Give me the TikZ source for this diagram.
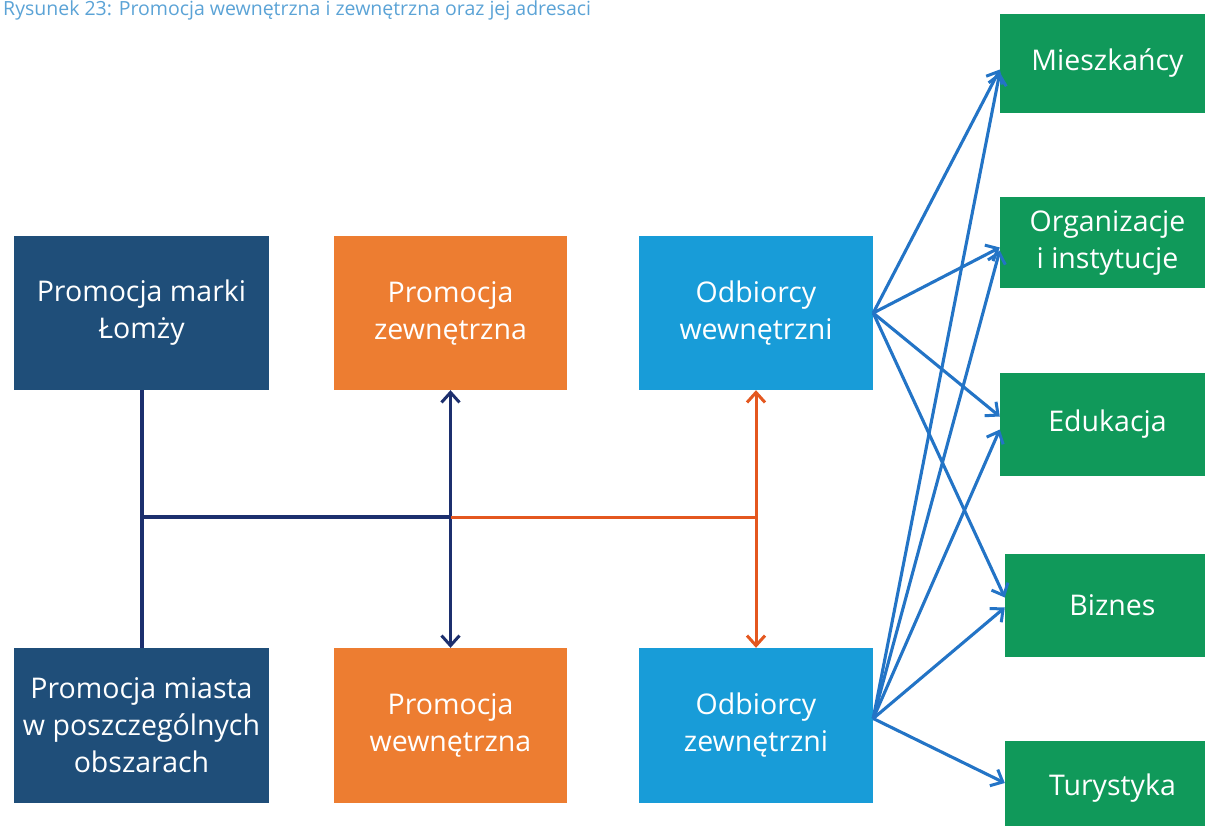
\documentclass[tikz,border=0pt]{standalone}
\usepackage{fontspec}
\setmainfont{Open Sans}
\usetikzlibrary{arrows.meta,calc}

\definecolor{navyfill}{HTML}{1F4E79}
\definecolor{orangefill}{HTML}{ED7D31}
\definecolor{skyfill}{HTML}{189CD8}
\definecolor{greenfill}{HTML}{10995A}
\definecolor{navyline}{HTML}{1C2F6E}
\definecolor{orangeline}{HTML}{E4571F}
\definecolor{blueline}{HTML}{2374C6}
\definecolor{titleblue}{HTML}{5BA3D6}

\tikzset{
  tbox/.style={rectangle, inner sep=0pt, text=white, align=center,
    font=\fontsize{28.5}{37}\selectfont},
  navybox/.style={tbox, fill=navyfill, minimum width=255pt},
  orangebox/.style={tbox, fill=orangefill, minimum width=233pt},
  skybox/.style={tbox, fill=skyfill, minimum width=234pt},
  greenbox/.style={tbox, fill=greenfill, minimum width=215pt},
  barb/.tip={Straight Barb[length=10pt,width=18pt,line width=3pt]},
  navyconn/.style={draw=navyline, line width=4pt},
  navyarrow/.style={draw=navyline, line width=3.5pt, barb-barb},
  orangeconn/.style={draw=orangeline, line width=3pt},
  orangearrow/.style={draw=orangeline, line width=3pt, barb-barb},
  bluearrow/.style={draw=blueline, line width=3.1pt, -barb},
}

\begin{document}
\begin{tikzpicture}[x=1pt,y=-1pt]
\useasboundingbox (0,0) rectangle (1205,825);

% caption along the top edge
\node[anchor=base west, text=titleblue, inner sep=0pt,
      font=\fontsize{19.5}{22}\selectfont] (title) at (3,15)
  {Rysunek 23: Promocja wewnętrzna i zewnętrzna oraz jej adresaci};

% upper row
\node[navybox, minimum height=154pt] (marka) at (141.5,313) {Promocja marki\\Łomży};
\node[orangebox, minimum height=154pt] (zewn) at (450.5,313) {Promocja\\zewnętrzna};
\node[skybox, minimum height=154pt] (odbw) at (756,313) {Odbiorcy\\wewnętrzni};

% lower row
\node[navybox, minimum height=155pt] (miasto) at (141.5,725.5) {Promocja miasta\\w poszczególnych\\obszarach};
\node[orangebox, minimum height=155pt] (wewn) at (450.5,725.5) {Promocja\\wewnętrzna};
\node[skybox, minimum height=155pt] (odbz) at (756,725.5) {Odbiorcy\\zewnętrzni};

% recipients
\node[greenbox, minimum height=99pt] (mies) at (1107.5,63.5) {Mieszkańcy};
\node[greenbox, minimum height=91pt] (org) at (1107.5,242.5) {Organizacje\\i instytucje};
\node[greenbox, minimum height=103pt] (edu) at (1107.5,424.5) {Edukacja};
\node[greenbox, minimum height=103pt] (biz) at (1112.5,605.5) {Biznes};
\node[greenbox, minimum height=94pt] (tur) at (1112.5,788) {Turystyka};

% junctions on the middle line
\coordinate (jl) at (141.5,517);
\coordinate (jm) at (zewn.south |- jl);
\coordinate (jr) at (odbw.south |- jl);

\draw[navyconn] (marka.south) -- (miasto.north);
\draw[navyconn] (jl) -- (jm);
\draw[navyarrow] (zewn.south) -- (wewn.north);
\draw[orangeconn] (jm) -- (jr);
\draw[orangearrow] (odbw.south) -- (odbz.north);

% internal recipients
\draw[bluearrow] (odbw.east) -- ([yshift=-6pt]mies.west);
\draw[bluearrow] (odbw.east) -- ([yshift=-5pt]org.west);
\draw[bluearrow] (odbw.east) -- ([yshift=8pt]edu.west);
\draw[bluearrow] (odbw.east) -- ([yshift=8pt]biz.west);

% external recipients
\draw[bluearrow] ([yshift=7pt]odbz.east) -- ([yshift=-9pt]mies.west);
\draw[bluearrow] ([yshift=7pt]odbz.east) -- ([yshift=-8pt]org.west);
\draw[bluearrow] ([yshift=7pt]odbz.east) -- ([yshift=-5pt]edu.west);
\draw[bluearrow] ([yshift=7pt]odbz.east) -- ([yshift=-2pt]biz.west);
\draw[bluearrow] ([yshift=7pt]odbz.east) -- ([yshift=5pt]tur.west);
\end{tikzpicture}
\end{document}
